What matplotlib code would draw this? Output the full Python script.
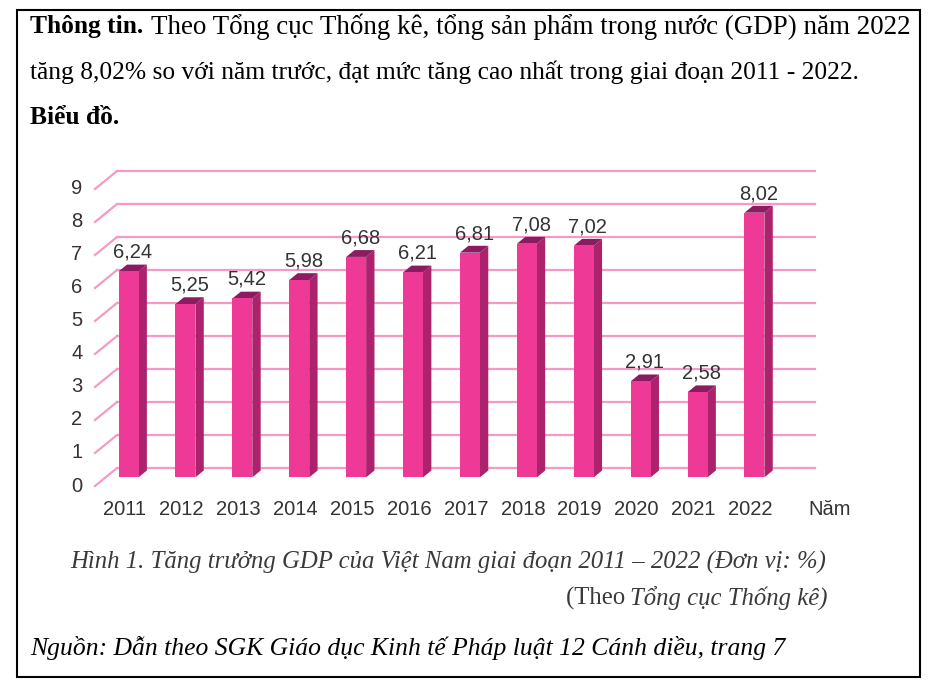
import matplotlib
matplotlib.use("Agg")
import matplotlib.pyplot as plt
from matplotlib.patches import Polygon, Rectangle

# Dữ liệu tăng trưởng GDP (%)
years = ["2011", "2012", "2013", "2014", "2015", "2016",
         "2017", "2018", "2019", "2020", "2021", "2022"]
gdp = [6.24, 5.25, 5.42, 5.98, 6.68, 6.21, 6.81, 7.08, 7.02, 2.91, 2.58, 8.02]
yticks = list(range(0, 10))

line1_bold = "Thông tin."
line1_rest = "Theo Tổng cục Thống kê, tổng sản phẩm trong nước (GDP) năm 2022"
line2 = "tăng 8,02% so với năm trước, đạt mức tăng cao nhất trong giai đoạn 2011 - 2022."
line3 = "Biểu đồ."
caption = "Hình 1. Tăng trưởng GDP của Việt Nam giai đoạn 2011 – 2022 (Đơn vị: %)"
source = "Nguồn: Dẫn theo SGK Giáo dục Kinh tế Pháp luật 12 Cánh diều, trang 7"

W, H = 941, 691
fig = plt.figure(figsize=(W / 100, H / 100), dpi=100)
renderer = fig.canvas.get_renderer()

serif = "Liberation Serif"
sans = "Liberation Sans"


def px(x, y):
    return x / W, 1 - y / H


def fit_size(txt, width, **kw):
    t = fig.text(0, 0, txt, fontsize=20, **kw)
    w = t.get_window_extent(renderer).width
    t.remove()
    return 20 * width / w


# khung viền
fig.patches.append(Rectangle(px(17, 677), 903 / W, 667 / H, transform=fig.transFigure,
                             fill=False, edgecolor="black", linewidth=1.5))

# đoạn văn phía trên
fs = fit_size(line2, 828, family=serif)
tb = fig.text(*px(30, 27), line1_bold, family=serif, fontsize=fs, fontweight="bold", va="center")
bx = tb.get_window_extent(renderer).x1
fs1 = fit_size(line1_rest, 910 - bx - 8, family=serif)
fig.text(bx / W + 8 / W, 1 - 27 / H, line1_rest, family=serif, fontsize=fs1, va="center")
fig.text(*px(30, 72), line2, family=serif, fontsize=fs, va="center")
fig.text(*px(30, 117), line3, family=serif, fontsize=fs, fontweight="bold", va="center")

# chú thích hình
fs_cap = fit_size(caption, 755, family=serif, style="italic")
fig.text(*px(70, 562), caption, family=serif, fontsize=fs_cap, style="italic",
         color="#3a3a3a", va="center")
t_src = fig.text(*px(827, 598), "Tổng cục Thống kê)", family=serif, fontsize=fs_cap,
                 style="italic", color="#3a3a3a", ha="right", va="center")
bb = t_src.get_window_extent(renderer)
fig.text(bb.x0 / W + 2 / W, 1 - 598 / H, "(Theo ", family=serif, fontsize=fs_cap,
         color="#3a3a3a", ha="right", va="center")

fs_src = fit_size(source, 753, family=serif, style="italic")
fig.text(*px(30, 648), source, family=serif, fontsize=fs_src, style="italic", va="center")

# biểu đồ cột giả 3D
ax = fig.add_axes([95 / W, (H - 486) / H, 720 / W, 315 / H])
x0, x1 = -0.404, 12.25
ax.set_xlim(x0, x1)
ax.set_ylim(0, 9.545)
ax.axis("off")

DX, DY = 0.387, 0.545      # độ lệch chiều sâu (theo đơn vị dữ liệu)
grid_c = "#f59ac5"
lab_c = "#333333"
for v in yticks:
    ax.plot([x0, x0 + DX], [v, v + DY], color=grid_c, lw=1.6, clip_on=False, zorder=1)
    ax.plot([x0 + DX, x1], [v + DY, v + DY], color=grid_c, lw=1.6, clip_on=False, zorder=1)
    ax.annotate(str(v), xy=(x0, v), xytext=(-9, 0), textcoords="offset points",
                ha="right", va="center", family=sans, fontsize=14.5, color=lab_c)

bw = 0.35
d0, dd = 0.48, 0.38
front_c, side_c, top_c = "#ee3a96", "#ad226c", "#8c1c62"
for i, v in enumerate(gdp):
    cx = i + d0 * DX
    xl, xr = cx - bw / 2, cx + bw / 2
    yb, yt = d0 * DY, v + d0 * DY
    ox, oy = dd * DX, dd * DY
    ax.add_patch(Polygon([(xr, yb), (xr + ox, yb + oy), (xr + ox, yt + oy), (xr, yt)],
                         closed=True, facecolor=side_c, edgecolor="none", zorder=3))
    ax.add_patch(Polygon([(xl, yt), (xr, yt), (xr + ox, yt + oy), (xl + ox, yt + oy)],
                         closed=True, facecolor=top_c, edgecolor="none", zorder=3))
    ax.add_patch(Rectangle((xl, yb), bw, v, facecolor=front_c, edgecolor="none", zorder=4))
    ax.annotate(f"{v:.2f}".replace(".", ","), xy=(cx + ox / 2, yt + oy), xytext=(0, 2),
                textcoords="offset points", ha="center", va="bottom",
                family=sans, fontsize=14.5, color=lab_c, zorder=5)

for i, y in enumerate(years):
    ax.annotate(y, xy=(i + 0.3 * DX, 0), xytext=(0, -17), textcoords="offset points",
                ha="center", va="center", family=sans, fontsize=14.5, color=lab_c,
                annotation_clip=False)
ax.annotate("Năm", xy=(len(years) + 0.5, 0), xytext=(0, -17), textcoords="offset points",
            ha="center", va="center", family=sans, fontsize=14.5, color=lab_c,
            annotation_clip=False)

fig.savefig("out.png", dpi=100)
